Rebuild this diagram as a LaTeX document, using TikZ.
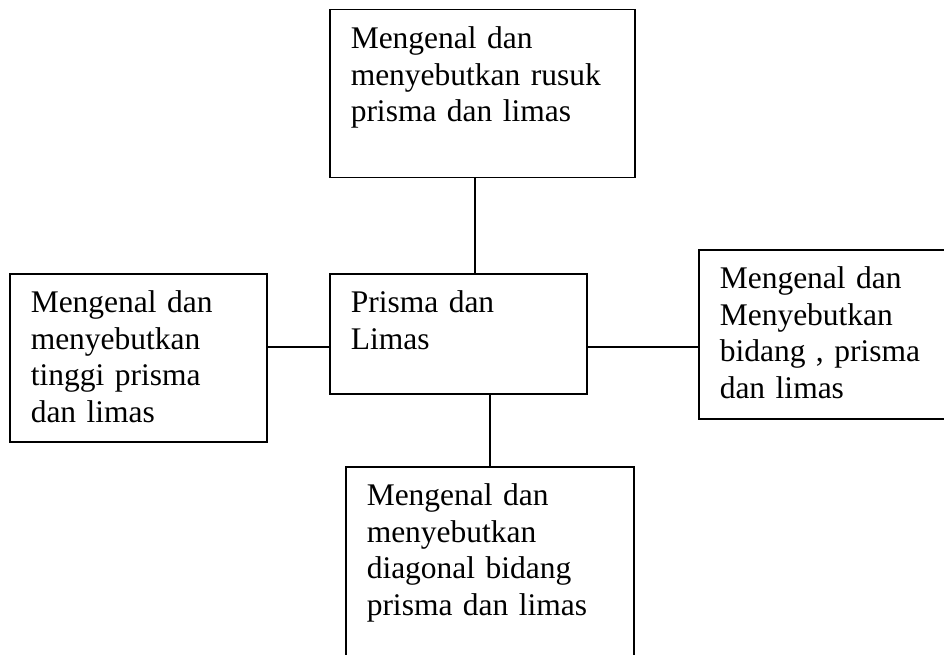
\documentclass[tikz,border=0pt]{standalone}
\usepackage{fontspec}
\setmainfont{Liberation Serif}
\begin{document}
\begin{tikzpicture}[x=1pt, y=-1pt, font=\fontsize{31.5}{36.5}\selectfont]

        % Styles
        \tikzstyle{box} = [draw=black, line width=1.5pt, anchor=north west, align=left, inner xsep=21pt, inner ysep=0pt, text height=39pt]
        \tikzstyle{link} = [draw=black, line width=1.5pt]

        % Page
        \useasboundingbox (0,0) rectangle (944,655);
        \clip (0,0) rectangle (944,655);

        % Center
        \node[box, text width=215pt, text depth=81pt] (prisma) at (329,273) {Prisma dan\\Limas};

        % Around
        \node[box, text width=263pt, text depth=129pt] (rusuk) at (329,9) {Mengenal dan\\menyebutkan rusuk\\prisma dan limas};
        \node[box, text width=215pt, text depth=129pt] (tinggi) at (9,273) {Mengenal dan\\menyebutkan\\tinggi prisma\\dan limas};
        \node[box, text width=218pt, text depth=130pt] (bidang) at (698,249) {Mengenal dan\\Menyebutkan\\bidang , prisma\\dan limas};
        \node[box, text width=246pt, text depth=161pt] (diagonal) at (345,466) {Mengenal dan\\menyebutkan\\diagonal bidang\\prisma dan limas};

        % Links
        \draw[link] ([xshift=16.5pt]prisma.north) -- ([xshift=16.5pt]prisma.north |- rusuk.south);
        \draw[link] ([yshift=-13pt]prisma.west) -- ([yshift=-13pt]prisma.west -| tinggi.east);
        \draw[link] ([yshift=-13pt]prisma.east) -- ([yshift=-13pt]prisma.east -| bidang.west);
        \draw[link] ([xshift=31.5pt]prisma.south) -- ([xshift=31.5pt]prisma.south |- diagonal.north);

    \end{tikzpicture}
\end{document}
